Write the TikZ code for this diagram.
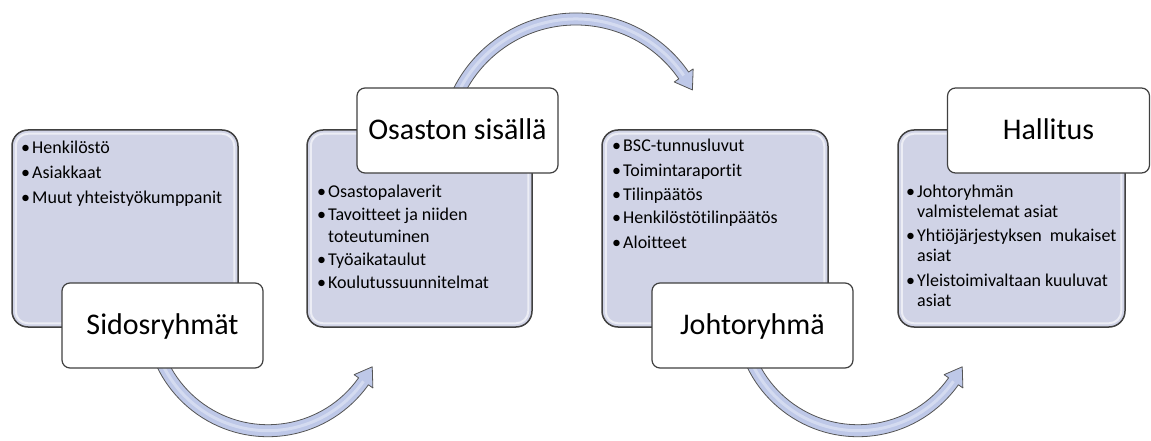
\documentclass[tikz,border=0pt]{standalone}
\usepackage{fontspec}
\setmainfont{Carlito}[Ligatures=NoCommon]
\usetikzlibrary{calc}
\definecolor{boxfill}{RGB}{208,211,230}
\definecolor{boxline}{RGB}{64,64,64}
\definecolor{arrowfill}{RGB}{190,200,232}
\definecolor{arrowline}{RGB}{85,85,85}
\newcommand\bitem[1]{\makebox[11pt][l]{•}#1}
\newcommand\bcont[1]{\hspace*{11pt}#1}
\newcommand\listfont{\fontsize{18}{21.5}\selectfont}
\newcommand\labelfont{\fontsize{30}{36}\selectfont}
\tikzset{
  listbox/.style={draw=boxline, line width=1.5pt, fill=boxfill, rounded corners=16pt,
    minimum width=#1, minimum height=197pt, inner sep=0pt},
  bevel/.style={draw=white, line width=2pt, opacity=0.6, rounded corners=12pt},
  labelbox/.style={draw=boxline, line width=1.2pt, fill=white, rounded corners=8pt,
    minimum width=#1, minimum height=85pt, inner sep=0pt, font=\labelfont,
    text height=21pt, text depth=3pt},
  listtext/.style={anchor=base west, inner sep=0pt},
  bentarrow/.style={fill=arrowfill, draw=arrowline, line width=0.8pt, line join=round},
  shine/.style={draw=white, line width=3pt, opacity=0.35},
}
% curved block arrow: #1 centre, #2 radius, #3 start angle, #4 head base angle, #5 tip angle
\newcommand\bendarrow[5]{%
  \draw[bentarrow] ($(#1)+(#3:#2+6)$) arc[start angle=#3, end angle=#4, radius=#2+6]
    -- ($(#1)+(#4:#2+11.5)$) -- ($(#1)+(#5:#2)$) -- ($(#1)+(#4:#2-11.5)$)
    -- ($(#1)+(#4:#2-6)$) arc[start angle=#4, end angle=#3, radius=#2-6] -- cycle;
  \draw[shine] ($(#1)+(#3:#2)$) arc[start angle=#3, end angle=#4, radius=#2];
}
\begin{document}
\begin{tikzpicture}[x=1pt,y=1pt]
\useasboundingbox (0,0) rectangle (1151,440);

% arrows (behind everything)
\coordinate (c1) at (268,126.3);
\coordinate (c2) at (576,290);
\coordinate (c3) at (858,126.3);
\bendarrow{c1}{117}{190}{324.7}{333}
\bendarrow{c2}{131}{165}{34.7}{27.3}
\bendarrow{c3}{117}{190}{324.7}{333}

% list boxes
\node[listbox=226pt] (b1) at (125,211.5) {};
\node[listbox=225pt] (b2) at (419.5,211.5) {};
\node[listbox=226pt] (b3) at (715,211.5) {};
\node[listbox=227pt] (b4) at (1011.5,211.5) {};
\foreach \b in {b1,b2,b3,b4}{
  \draw[bevel] ([shift={(4.5pt,4.5pt)}]\b.south west) rectangle ([shift={(-4.5pt,-4.5pt)}]\b.north east);
}

% list texts
\node[listtext] (t1) at (21,287) {\parbox[t]{215pt}{\raggedright\listfont
  \bitem{Henkilöstö}\\[3.5pt]
  \bitem{Asiakkaat}\\[3.5pt]
  \bitem{Muut yhteistyökumppanit}}};
\node[listtext] (t2) at (317,243) {\parbox[t]{215pt}{\raggedright\fontsize{18}{22}\selectfont
  \bitem{Osastopalaverit}\\[1pt]
  \bitem{Tavoitteet ja niiden}\\
  \bcont{toteutuminen}\\[1pt]
  \bitem{Työaikataulut}\\[1pt]
  \bitem{Koulutussuunnitelmat}}};
\node[listtext] (t3) at (612,288) {\parbox[t]{215pt}{\raggedright\listfont
  \bitem{BSC-tunnusluvut}\\[2.5pt]
  \bitem{Toimintaraportit}\\[2.5pt]
  \bitem{Tilinpäätös}\\[2.5pt]
  \bitem{Henkilöstötilinpäätös}\\[2.5pt]
  \bitem{Aloitteet}}};
\node[listtext] (t4) at (906,243) {\parbox[t]{225pt}{\raggedright\fontsize{18}{20}\selectfont
  \bitem{Johtoryhmän}\\
  \bcont{valmistelemat asiat}\\[4.5pt]
  \bitem{Yhtiöjärjestyksen\ \ mukaiset}\\
  \bcont{asiat}\\[4.5pt]
  \bitem{Yleistoimivaltaan kuuluvat}\\
  \bcont{asiat}}};

% label boxes
\node[labelbox=201pt] (l1) at (162.5,114.5) {Sidosryhmät};
\node[labelbox=201pt] (l2) at (457.5,309.5) {Osaston sisällä};
\node[labelbox=201pt] (l3) at (752.5,114.5) {Johtoryhmä};
\node[labelbox=202pt] (l4) at (1048.5,309.5) {Hallitus};
\end{tikzpicture}
\end{document}
